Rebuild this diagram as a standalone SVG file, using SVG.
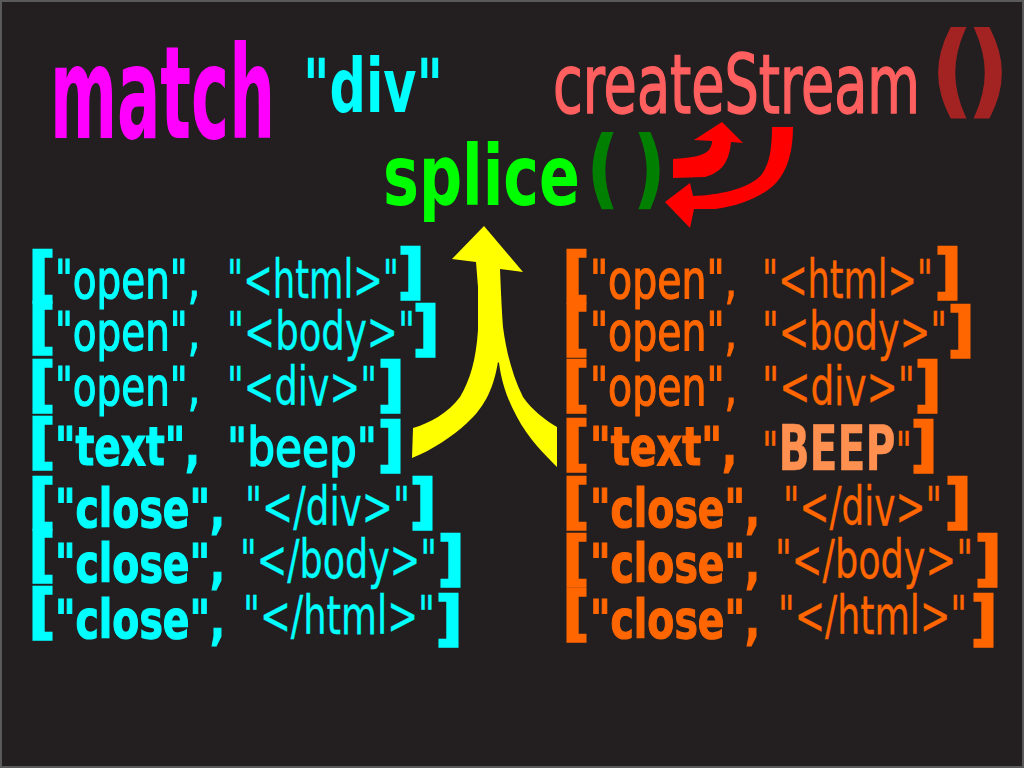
<svg xmlns="http://www.w3.org/2000/svg" width="1024" height="768" viewBox="0 0 1024 768">
  <style>
    text { font-family: "Liberation Sans Narrow", "DejaVu Sans Condensed", "Liberation Sans", sans-serif; }
    .cy { fill: #00ffff; stroke: #00ffff; }
    .or { fill: #ff6600; stroke: #ff6600; }
    .beep { fill: #ff9050; stroke: #ff9050; }
    .br { font-size: 58px; font-weight: bold; stroke-width: 2.5; }
    .wd { font-size: 54px; stroke-width: 1.2; }
    .wdb { font-size: 54px; font-weight: bold; stroke-width: 1.2; }
    .tag { font-size: 54px; stroke-width: 0.3; }
  </style>

  <!-- backdrop -->
  <rect x="1" y="1" width="1022" height="766" fill="#231f20" stroke="#5a5a5a" stroke-width="2"/>

  <!-- headline calls -->
  <g id="match">
    <text x="50" y="138" font-size="128" font-weight="bold" fill="#ff00ff" textLength="225" lengthAdjust="spacingAndGlyphs">match</text>
  </g>
  <g id="div-selector">
    <text x="303" y="112" font-size="74" font-weight="bold" fill="#00ffff" textLength="140" lengthAdjust="spacingAndGlyphs">"div"</text>
  </g>
  <g id="createStream">
    <text x="553" y="113" font-size="82" fill="#ff5f5f" stroke="#ff5f5f" stroke-width="1.5" textLength="367" lengthAdjust="spacingAndGlyphs">createStream</text>
    <text x="933" y="104" font-size="98" font-weight="bold" fill="#a32323" stroke="#a32323" stroke-width="4" textLength="74" lengthAdjust="spacingAndGlyphs">()</text>
  </g>
  <g id="splice">
    <text x="383" y="205" font-size="84" font-weight="bold" fill="#00ff00" textLength="197" lengthAdjust="spacingAndGlyphs">splice</text>
    <text x="589" y="196" font-size="82" font-weight="bold" fill="#007f00" stroke="#007f00" stroke-width="4" textLength="74" lengthAdjust="spacingAndGlyphs">( )</text>
  </g>

  <!-- connectors -->
  <g id="connectors">
    <!-- merging arrow into splice() -->
    <path fill="#ffff00" d="M484,226 L523,272 L500,269 C501,295 502,315 503,327 C506,350 512,375 523,397 C532,410 545,420 557,427 L557,467 C545,455 528,438 517,417 C508,400 502,385 499,363 L498,362 C494,385 487,405 467,423 C452,437 432,450 412,458 L413,428 C430,423 448,413 460,397 C470,380 476,360 478,330 L478,287 L476,262 L452,259 Z"/>
    <!-- stream loop arrows -->
    <path fill="#ff0000" d="M722,122 L743,143 L731,142 C729,162 722,172 705,177 L673,178 L673,159 C690,158 704,156 709,150 C711,147 712,144 712,141 L694,140 Z"/>
    <path fill="#ff0000" d="M772,127 L793,127 C793,150 788,170 776,183 C762,197 740,206 715,209 L694,209 L690,228 L665,202 L690,183 L693,196 C720,195 744,189 757,179 C769,170 772,150 772,127 Z"/>
  </g>

  <!-- input stream -->
  <g id="input-stream">
    <g id="in-1">
      <text class="br cy" x="29" y="295" textLength="26" lengthAdjust="spacingAndGlyphs">[</text>
      <text class="wd cy" x="55" y="298" textLength="145" lengthAdjust="spacingAndGlyphs">"open",</text>
      <text class="tag cy" x="227" y="298" textLength="172" lengthAdjust="spacingAndGlyphs">"&lt;html&gt;"</text>
      <text class="br cy" x="398" y="292" textLength="26" lengthAdjust="spacingAndGlyphs">]</text>
    </g>
    <g id="in-2">
      <text class="br cy" x="29" y="347" textLength="26" lengthAdjust="spacingAndGlyphs">[</text>
      <text class="wd cy" x="55" y="350" textLength="145" lengthAdjust="spacingAndGlyphs">"open",</text>
      <text class="tag cy" x="227" y="350" textLength="188" lengthAdjust="spacingAndGlyphs">"&lt;body&gt;"</text>
      <text class="br cy" x="413" y="349" textLength="26" lengthAdjust="spacingAndGlyphs">]</text>
    </g>
    <g id="in-3">
      <text class="br cy" x="29" y="405" textLength="26" lengthAdjust="spacingAndGlyphs">[</text>
      <text class="wd cy" x="55" y="405" textLength="145" lengthAdjust="spacingAndGlyphs">"open",</text>
      <text class="tag cy" x="227" y="405" textLength="150" lengthAdjust="spacingAndGlyphs">"&lt;div&gt;"</text>
      <text class="br cy" x="378" y="405" textLength="26" lengthAdjust="spacingAndGlyphs">]</text>
    </g>
    <g id="in-4">
      <text class="br cy" x="29" y="462" textLength="26" lengthAdjust="spacingAndGlyphs">[</text>
      <text class="wdb cy" x="55" y="465" textLength="145" lengthAdjust="spacingAndGlyphs">"text",</text>
      <text class="tag cy" x="227" y="466" font-size="62" style="stroke-width:1.5" textLength="150" lengthAdjust="spacingAndGlyphs">"beep"</text>
      <text class="br cy" x="378" y="465" textLength="26" lengthAdjust="spacingAndGlyphs">]</text>
    </g>
    <g id="in-5">
      <text class="br cy" x="29" y="522" textLength="26" lengthAdjust="spacingAndGlyphs">[</text>
      <text class="wdb cy" x="55" y="527" textLength="170" lengthAdjust="spacingAndGlyphs">"close",</text>
      <text class="tag cy" x="245" y="525" textLength="165" lengthAdjust="spacingAndGlyphs">"&lt;/div&gt;"</text>
      <text class="br cy" x="410" y="522" textLength="26" lengthAdjust="spacingAndGlyphs">]</text>
    </g>
    <g id="in-6">
      <text class="br cy" x="29" y="575" textLength="26" lengthAdjust="spacingAndGlyphs">[</text>
      <text class="wdb cy" x="55" y="582" textLength="170" lengthAdjust="spacingAndGlyphs">"close",</text>
      <text class="tag cy" x="240" y="578" textLength="197" lengthAdjust="spacingAndGlyphs">"&lt;/body&gt;"</text>
      <text class="br cy" x="438" y="579" textLength="26" lengthAdjust="spacingAndGlyphs">]</text>
    </g>
    <g id="in-7">
      <text class="br cy" x="29" y="632" textLength="26" lengthAdjust="spacingAndGlyphs">[</text>
      <text class="wdb cy" x="55" y="638" textLength="170" lengthAdjust="spacingAndGlyphs">"close",</text>
      <text class="tag cy" x="243" y="634" textLength="192" lengthAdjust="spacingAndGlyphs">"&lt;/html&gt;"</text>
      <text class="br cy" x="436" y="639" textLength="26" lengthAdjust="spacingAndGlyphs">]</text>
    </g>
  </g>

  <!-- output stream -->
  <g id="output-stream">
    <g id="out-1">
      <text class="br or" x="563" y="295" textLength="26" lengthAdjust="spacingAndGlyphs">[</text>
      <text class="wd or" x="590" y="298" textLength="147" lengthAdjust="spacingAndGlyphs">"open",</text>
      <text class="tag or" x="762" y="298" textLength="171" lengthAdjust="spacingAndGlyphs">"&lt;html&gt;"</text>
      <text class="br or" x="935" y="292" textLength="26" lengthAdjust="spacingAndGlyphs">]</text>
    </g>
    <g id="out-2">
      <text class="br or" x="563" y="349" textLength="26" lengthAdjust="spacingAndGlyphs">[</text>
      <text class="wd or" x="590" y="350" textLength="147" lengthAdjust="spacingAndGlyphs">"open",</text>
      <text class="tag or" x="762" y="350" textLength="185" lengthAdjust="spacingAndGlyphs">"&lt;body&gt;"</text>
      <text class="br or" x="948" y="350" textLength="26" lengthAdjust="spacingAndGlyphs">]</text>
    </g>
    <g id="out-3">
      <text class="br or" x="563" y="405" textLength="26" lengthAdjust="spacingAndGlyphs">[</text>
      <text class="wd or" x="590" y="405" textLength="147" lengthAdjust="spacingAndGlyphs">"open",</text>
      <text class="tag or" x="762" y="405" textLength="153" lengthAdjust="spacingAndGlyphs">"&lt;div&gt;"</text>
      <text class="br or" x="915" y="405" textLength="26" lengthAdjust="spacingAndGlyphs">]</text>
    </g>
    <g id="out-4">
      <text class="br or" x="563" y="464" textLength="26" lengthAdjust="spacingAndGlyphs">[</text>
      <text class="wdb or" x="590" y="465" textLength="147" lengthAdjust="spacingAndGlyphs">"text",</text>
      <text class="tag or" x="762" y="470" textLength="150" lengthAdjust="spacingAndGlyphs">"<tspan class="beep" font-weight="bold" font-size="62">BEEP</tspan>"</text>
      <text class="br or" x="911" y="465" textLength="26" lengthAdjust="spacingAndGlyphs">]</text>
    </g>
    <g id="out-5">
      <text class="br or" x="563" y="522" textLength="26" lengthAdjust="spacingAndGlyphs">[</text>
      <text class="wdb or" x="590" y="527" textLength="170" lengthAdjust="spacingAndGlyphs">"close",</text>
      <text class="tag or" x="783" y="525" textLength="159" lengthAdjust="spacingAndGlyphs">"&lt;/div&gt;"</text>
      <text class="br or" x="945" y="522" textLength="26" lengthAdjust="spacingAndGlyphs">]</text>
    </g>
    <g id="out-6">
      <text class="br or" x="563" y="579" textLength="26" lengthAdjust="spacingAndGlyphs">[</text>
      <text class="wdb or" x="590" y="582" textLength="170" lengthAdjust="spacingAndGlyphs">"close",</text>
      <text class="tag or" x="775" y="578" textLength="198" lengthAdjust="spacingAndGlyphs">"&lt;/body&gt;"</text>
      <text class="br or" x="975" y="579" textLength="26" lengthAdjust="spacingAndGlyphs">]</text>
    </g>
    <g id="out-7">
      <text class="br or" x="563" y="634" textLength="26" lengthAdjust="spacingAndGlyphs">[</text>
      <text class="wdb or" x="590" y="638" textLength="170" lengthAdjust="spacingAndGlyphs">"close",</text>
      <text class="tag or" x="778" y="634" textLength="189" lengthAdjust="spacingAndGlyphs">"&lt;/html&gt;"</text>
      <text class="br or" x="971" y="639" textLength="26" lengthAdjust="spacingAndGlyphs">]</text>
    </g>
  </g>
</svg>
